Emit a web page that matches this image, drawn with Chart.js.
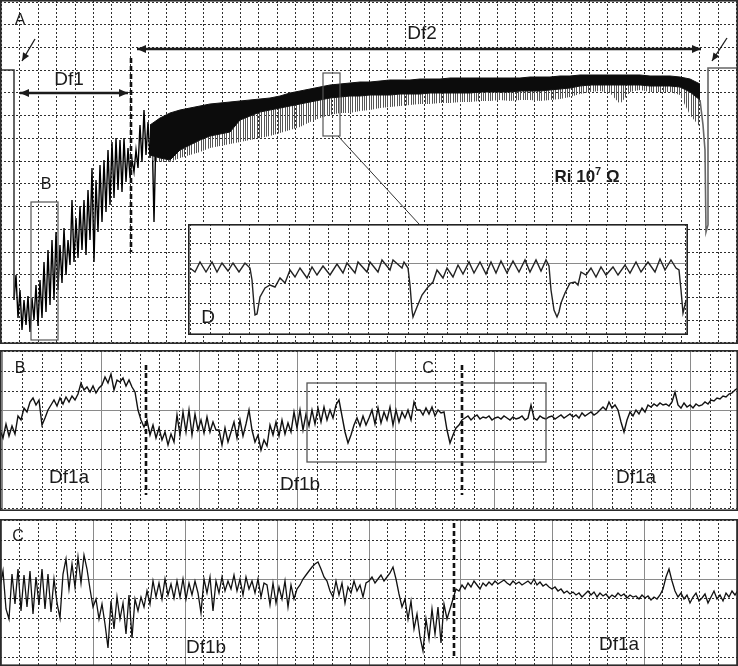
<!DOCTYPE html>
<html>
<head>
<meta charset="utf-8">
<script src="https://cdn.jsdelivr.net/npm/chart.js@4/dist/chart.umd.min.js"></script>
<style>
  html, body { margin: 0; padding: 0; background: #fff; }
  #fig { position: relative; width: 738px; height: 666px; }
  #fig canvas { position: absolute; }
</style>
</head>
<body>
<div id="fig">
  <canvas id="panelA" width="738" height="344" style="left:0;top:0"></canvas>
  <canvas id="panelD" width="500" height="111" style="left:188px;top:224px"></canvas>
  <canvas id="panelB" width="738" height="161" style="left:0;top:350px"></canvas>
  <canvas id="panelC" width="738" height="147" style="left:0;top:519px"></canvas>
</div>
<script>
// Panel A - whole recording. x = time (samples), y = deflection measured down from the top of the panel
const leadX = [0, 14, 14];
const leadY = [70, 70, 300];

// Df1: noisy part, one sample every 2 units from x = 14
const df1Start = 14;
const df1Step = 2;
const df1Trace = [300, 275, 318, 290, 330, 300, 325, 296, 332, 298,
                  320, 285, 326, 280, 318, 262, 312, 250, 305, 240,
                  300, 232, 290, 245, 283, 228, 275, 240, 265, 200,
                  262, 218, 258, 206, 250, 200, 255, 190, 240, 168,
                  262, 180, 232, 165, 222, 160, 212, 150, 205, 142,
                  198, 138, 190, 140, 192, 138, 182, 148, 178, 160,
                  172, 150, 168, 125, 162, 110, 155, 122, 158, 128,
                  222, 132, 155, 120];

// Df2: dense band (top edge, bottom of the solid part, tips of the spikes)
const bandX = [150, 160, 170, 180, 190, 200, 210, 220, 230, 240, 250, 260, 270, 280,
               290, 300, 310, 320, 330, 340, 350, 360, 370, 380, 390, 400, 410, 420,
               430, 440, 450, 460, 470, 480, 490, 500, 510, 520, 530, 540, 550, 560,
               570, 580, 590, 600, 610, 620, 630, 640, 650, 660, 670, 680, 690, 700];
const bandTop = [125, 118, 113, 110, 108, 106, 104, 103, 102, 101, 100, 99, 98, 96,
                 93, 91, 89, 87, 85, 84, 83, 82, 82, 81, 80, 80, 80, 79,
                 79, 79, 78, 78, 78, 78, 78, 78, 78, 78, 77, 77, 77, 76,
                 76, 75, 75, 75, 75, 75, 75, 75, 76, 76, 76, 77, 79, 84];
const bandCore = [155, 158, 160, 150, 145, 140, 136, 134, 132, 120, 116, 112, 110, 108,
                  106, 104, 102, 100, 98, 97, 96, 96, 95, 95, 95, 94, 94, 94,
                  93, 93, 93, 93, 93, 92, 92, 92, 92, 91, 91, 91, 90, 89,
                  88, 86, 85, 85, 85, 85, 85, 85, 86, 86, 86, 87, 92, 100];
const bandSpike = [160, 162, 162, 158, 155, 152, 148, 146, 144, 142, 140, 138, 136, 133,
                   130, 127, 122, 118, 115, 113, 113, 111, 110, 108, 107, 106, 105, 104,
                   104, 103, 103, 102, 102, 101, 101, 100, 101, 100, 100, 101, 100, 99,
                   97, 94, 92, 91, 93, 104, 92, 90, 92, 92, 92, 95, 115, 127];

const tailX = [700, 703, 705, 706, 708, 708, 738];
const tailY = [100, 125, 150, 232, 225, 68, 68];

// Inset D - expanded stretch of Df2
const insetX = [2, 7, 12, 18, 24, 29, 34, 40, 45, 51, 57, 62, 64, 66, 67, 69, 72, 77, 82, 87,
                92, 97, 102, 107, 112, 119, 124, 129, 135, 142, 149, 155, 159, 167, 170, 179, 182, 190, 194, 202,
                205, 214, 216, 220, 222, 224, 225, 227, 229, 234, 240, 245, 249, 255, 259, 265, 270, 275, 281, 286,
                292, 298, 303, 308, 313, 319, 325, 331, 337, 342, 348, 353, 358, 361, 363, 366, 369, 371, 373, 377,
                382, 387, 390, 393, 398, 403, 408, 413, 418, 425, 430, 437, 442, 448, 453, 460, 467, 472, 477, 483,
                488, 491, 493, 495, 497, 498];
const insetY = [44, 48, 38, 48, 38, 48, 39, 47, 39, 48, 39, 44, 56, 81, 91, 90, 73, 64, 61, 63,
                54, 59, 46, 53, 44, 54, 43, 51, 42, 51, 40, 49, 39, 49, 38, 48, 38, 48, 36, 46,
                36, 44, 38, 44, 61, 86, 93, 88, 83, 71, 63, 58, 46, 54, 44, 53, 41, 50, 38, 49,
                38, 50, 38, 49, 37, 49, 37, 48, 36, 48, 36, 47, 36, 42, 66, 86, 93, 88, 79, 69,
                59, 58, 61, 48, 51, 44, 53, 43, 51, 43, 51, 41, 49, 38, 48, 38, 48, 35, 46, 36,
                44, 46, 66, 89, 81, 76];

// Panel B - one sample every 3 units
const bStep = 3;
const traceB = [80, 88, 74, 86, 76, 84, 66, 70, 58, 62, 52, 48, 55, 50, 75, 68, 60,
                55, 50, 56, 48, 54, 47, 52, 46, 50, 44, 33, 40, 37, 42, 36, 43, 38,
                35, 27, 33, 24, 40, 30, 32, 28, 36, 30, 37, 42, 60, 70, 77,
                70, 85, 75, 88, 78, 90, 82, 95, 84, 92,
                65, 85, 62, 82, 60, 85, 64, 80, 70, 83, 67, 82, 72, 80,
                80, 95, 78, 92, 82, 72, 88, 70, 86, 74, 60,
                80, 92, 85, 100, 90, 96, 75, 85, 72, 86, 70, 84, 73, 82,
                62, 78, 60, 80, 64, 76, 60, 74, 58, 72, 57, 70, 60, 68, 55, 50,
                66, 82, 93, 85, 75, 68, 76, 66, 75, 68,
                60, 74, 58, 73, 62, 70, 57, 75, 60, 72, 62, 68, 60, 70, 52, 60,
                60, 65, 58, 64, 57, 66, 60, 63, 62, 80, 93, 85, 78, 75, 70,
                68, 66, 70, 67, 65, 69, 67, 68, 66, 70, 68, 67, 69, 66, 68, 70, 67, 69, 68, 66, 70, 68, 55,
                68, 70, 66, 68, 69, 67, 66, 69, 67, 65, 68, 66, 64, 67, 65, 68, 63, 66, 64, 62, 65, 63, 60,
                57, 60, 52, 58, 55, 60, 72, 82, 70, 62, 66, 60, 64, 58, 62,
                55, 57, 54, 56, 53, 55, 54, 56, 52, 42, 55, 58, 53, 57, 55, 58, 54, 56,
                55, 52, 54, 50, 51, 48, 49, 46, 47, 44, 43, 40, 38];

// Panel C - one sample every 3 units
const cStep = 3;
const traceC = [68, 52, 90, 100, 55, 85, 50, 92, 56, 88, 52, 95, 58, 86, 50, 90, 55, 93, 60, 84, 99,
                55, 40, 70, 45, 68, 38, 64, 36, 50, 70, 88,
                80, 100, 85, 105, 129, 82, 110, 78, 100, 84, 115, 76, 119,
                80, 92, 78, 88, 72, 85,
                62, 78, 64, 80, 60, 76, 65, 79, 62, 78, 60, 80, 64, 76, 62, 74, 94,
                60, 74, 58, 92, 62, 74, 58, 72, 62, 70, 56, 72, 60, 76, 58, 70, 62, 74, 60, 78, 64,
                66, 86, 64, 84, 68, 80, 62, 88, 66, 80, 70,
                66, 60, 56, 52, 48, 45, 43, 50, 58, 62, 72, 78,
                62, 76, 64, 84, 68, 74, 62, 72, 66, 78, 64,
                62, 58, 64, 60, 56, 62, 58, 54, 48, 60, 75, 88, 80,
                100, 82, 110, 95, 118, 132, 100, 120, 90, 115, 88, 124, 85, 100, 90, 80, 70,
                72, 66, 70, 64, 68, 62, 66, 70, 64, 67, 63, 66, 62, 65, 63, 61, 64, 66, 62, 65, 63, 66, 64, 62, 65, 60, 66, 63, 67, 65, 68,
                70, 68, 72, 70, 74, 72, 75, 73, 76, 74, 78, 75,
                72, 76, 73, 78, 74, 77, 75, 79, 76, 78, 74, 77, 75, 79, 76, 78, 77, 80, 76, 79, 77, 81, 78,
                80, 76, 70, 58, 50, 62, 72, 78, 74,
                80, 76, 84, 78, 74, 82, 79, 75, 84, 78, 72, 80, 76, 82, 74, 78, 72, 76, 71];

// chart-recorder grid of each panel: first line, spacing, number of steps
const gridA = { x: [1.6, 18.37, 40], y: [2, 22.73, 15] };
const gridD = { x: [2.2, 19.8, 25], y: [19, 20, 4], majorY: [1] };
const gridB = { x: [2.7, 19.66, 37], y: [2, 19.6, 8], majorEveryX: 5, majorY: [3] };
const gridC = { x: [1.6, 18.37, 40], y: [1.5, 19.5, 7], majorEveryX: 5, majorY: [3] };

const INK = '#1b1b1b';
const FONT = '"Liberation Sans", Arial, sans-serif';

function toPts(xs, ys) { return ys.map((y, i) => ({ x: xs[i], y })); }
function evenPts(x0, dx, ys) { return ys.map((y, i) => ({ x: x0 + i * dx, y })); }

// vertical hair-lines used to fill the spiky underside of the Df2 band
function stripes(width, cols, color) {
  const c = document.createElement('canvas');
  c.width = width; c.height = 4;
  const g = c.getContext('2d');
  g.fillStyle = color;
  cols.forEach(x => g.fillRect(x, 0, 1, 4));
  return g.createPattern(c, 'repeat');
}

function gridTicks(spec) {
  const ticks = [];
  for (let k = 0; k <= spec[2]; k++) ticks.push({ value: spec[0] + k * spec[1] });
  return ticks;
}

function axis(max, spec, isMajor, vertical) {
  return {
    type: 'linear', min: 0, max: max, reverse: vertical,
    afterBuildTicks: s => { s.ticks = gridTicks(spec); },
    afterFit: s => { if (vertical) s.width = 0; else s.height = 0; },
    ticks: { display: false },
    grid: {
      drawTicks: false, lineWidth: 1,
      color: c => isMajor(c.index) ? '#8a8a8a' : '#2e2e2e'
    },
    border: { display: false, dash: c => isMajor(c.index) ? [] : [2, 2] }
  };
}

function arrowHead(ctx, x1, y1, x2, y2, len, half) {
  const a = Math.atan2(y2 - y1, x2 - x1);
  const c = Math.cos(a), s = Math.sin(a);
  ctx.beginPath();
  ctx.moveTo(x2, y2);
  ctx.lineTo(x2 - len * c + half * s, y2 - len * s - half * c);
  ctx.lineTo(x2 - len * c - half * s, y2 - len * s + half * c);
  ctx.closePath();
  ctx.fill();
}

// draws the frame, labels, arrows, dashed markers and boxes in data coordinates
const marks = {
  id: 'marks',
  beforeDraw(chart) {
    const { ctx, width, height } = chart;
    ctx.save();
    ctx.fillStyle = '#fff';
    ctx.fillRect(0, 0, width, height);
    ctx.restore();
  },
  afterDraw(chart, args, opts) {
    const { ctx, chartArea: a, scales: { x, y } } = chart;
    const px = v => x.getPixelForValue(v);
    const py = v => y.getPixelForValue(v);
    ctx.save();
    (opts.items || []).forEach(m => {
      ctx.strokeStyle = m.color || INK;
      ctx.fillStyle = m.color || INK;
      ctx.lineWidth = m.w || 1;
      ctx.setLineDash(m.dash || []);
      if (m.t === 'line') {
        const [x1, y1, x2, y2] = [px(m.p[0]), py(m.p[1]), px(m.p[2]), py(m.p[3])];
        ctx.beginPath();
        ctx.moveTo(x1, y1);
        ctx.lineTo(x2, y2);
        ctx.stroke();
        ctx.setLineDash([]);
        const len = m.hl || 9, half = m.hw || 4;
        if (m.head === 'end' || m.head === 'both') arrowHead(ctx, x1, y1, x2, y2, len, half);
        if (m.head === 'both') arrowHead(ctx, x2, y2, x1, y1, len, half);
      } else if (m.t === 'rect') {
        ctx.strokeRect(px(m.p[0]), py(m.p[1]), px(m.p[2]) - px(m.p[0]), py(m.p[3]) - py(m.p[1]));
      } else if (m.t === 'text') {
        const runs = m.runs || [[m.s, false]];
        const size = m.size || 19;
        const fontFor = sup => `${m.bold ? 'bold ' : ''}${sup ? Math.round(size * 0.62) : size}px ${FONT}`;
        let total = 0;
        runs.forEach(r => { ctx.font = fontFor(r[1]); total += ctx.measureText(r[0]).width; });
        let cx = px(m.p[0]) - total / 2;
        const cy = py(m.p[1]);
        ctx.textAlign = 'left';
        ctx.textBaseline = 'middle';
        runs.forEach(r => {
          ctx.font = fontFor(r[1]);
          ctx.fillText(r[0], cx, r[1] ? cy - size * 0.32 : cy);
          cx += ctx.measureText(r[0]).width;
        });
      }
    });
    ctx.setLineDash([]);
    ctx.lineWidth = opts.frameWidth || 1.6;
    ctx.strokeStyle = opts.frameColor || '#2b2b2b';
    const f = ctx.lineWidth / 2;
    ctx.strokeRect(a.left + f, a.top + f, a.right - a.left - 2 * f, a.bottom - a.top - 2 * f);
    ctx.restore();
  }
};

function panel(id, w, h, grid, datasets, items, frameColor) {
  const majorX = i => !!grid.majorEveryX && i % grid.majorEveryX === 0;
  const majorY = i => (grid.majorY || []).includes(i);
  return new Chart(document.getElementById(id), {
    type: 'line',
    data: { datasets },
    options: {
      responsive: false,
      animation: false,
      events: [],
      layout: { padding: 0, autoPadding: false },
      elements: { point: { radius: 0 }, line: { tension: 0 } },
      plugins: {
        legend: { display: false },
        tooltip: { enabled: false },
        marks: { items, frameColor }
      },
      scales: {
        x: axis(w, grid.x, majorX, false),
        y: axis(h, grid.y, majorY, true)
      }
    },
    plugins: [marks]
  });
}

const dashed = { w: 2.6, dash: [5, 3], color: '#111' };

panel('panelA', 738, 344, gridA, [
  { data: toPts(bandX, bandTop), borderColor: '#111', borderWidth: 1, fill: false },
  { data: toPts(bandX, bandCore), borderColor: '#111', borderWidth: 1, backgroundColor: '#0c0c0c', fill: '-1' },
  { data: toPts(bandX, bandSpike), borderColor: 'rgba(0,0,0,0)', borderWidth: 0,
    backgroundColor: stripes(7, [0, 2, 5], '#555'), fill: '-1' },
  { data: toPts(leadX, leadY), borderColor: '#333', borderWidth: 1.5, fill: false },
  { data: evenPts(df1Start, df1Step, df1Trace), borderColor: '#000', borderWidth: 1.4, fill: false },
  { data: toPts(tailX, tailY), borderColor: '#666', borderWidth: 1.6, fill: false }
], [
  { t: 'text', p: [20, 21], s: 'A', size: 16 },
  { t: 'line', p: [35, 39, 22, 61], w: 1.3, head: 'end', hl: 8, hw: 3.5 },
  { t: 'line', p: [727, 38, 712, 61], w: 1.3, head: 'end', hl: 8, hw: 3.5 },
  { t: 'line', p: [20, 93, 128, 93], w: 2.5, head: 'both' },
  { t: 'text', p: [69, 80], s: 'Df1' },
  Object.assign({ t: 'line', p: [131, 58, 131, 252] }, dashed),
  { t: 'line', p: [137, 49, 701, 49], w: 2.5, head: 'both' },
  { t: 'text', p: [422, 34], s: 'Df2' },
  { t: 'rect', p: [323, 73, 340, 136], w: 1.2, color: '#555' },
  { t: 'line', p: [338, 136, 419, 224], w: 1, color: '#333' },
  { t: 'rect', p: [31, 202, 58, 340], w: 1.2, color: '#555' },
  { t: 'text', p: [46, 185], s: 'B', size: 16 },
  { t: 'text', p: [587, 177], size: 17, bold: true, runs: [['Ri 10', false], ['7', true], [' \u03A9', false]] }
]);

panel('panelD', 500, 111, gridD, [
  { data: toPts(insetX, insetY), borderColor: '#222', borderWidth: 1.4, fill: false }
], [
  { t: 'text', p: [20, 94], s: 'D' }
], '#222');

panel('panelB', 738, 161, gridB, [
  { data: evenPts(0, bStep, traceB), borderColor: '#111', borderWidth: 1.4, fill: false }
], [
  { t: 'text', p: [20, 19], s: 'B', size: 16 },
  Object.assign({ t: 'line', p: [146, 15, 146, 145] }, dashed),
  Object.assign({ t: 'line', p: [462, 15, 462, 145] }, dashed),
  { t: 'rect', p: [307, 33, 546, 112], w: 1.3, color: '#555' },
  { t: 'text', p: [428, 19], s: 'C', size: 16 },
  { t: 'text', p: [69, 128], s: 'Df1a' },
  { t: 'text', p: [300, 135], s: 'Df1b' },
  { t: 'text', p: [636, 128], s: 'Df1a' }
]);

panel('panelC', 738, 147, gridC, [
  { data: evenPts(0, cStep, traceC), borderColor: '#111', borderWidth: 1.3, fill: false }
], [
  { t: 'text', p: [18, 18], s: 'C', size: 16 },
  Object.assign({ t: 'line', p: [454, 4, 454, 138] }, dashed),
  { t: 'text', p: [206, 129], s: 'Df1b' },
  { t: 'text', p: [619, 126], s: 'Df1a' }
]);
</script>
</body>
</html>
